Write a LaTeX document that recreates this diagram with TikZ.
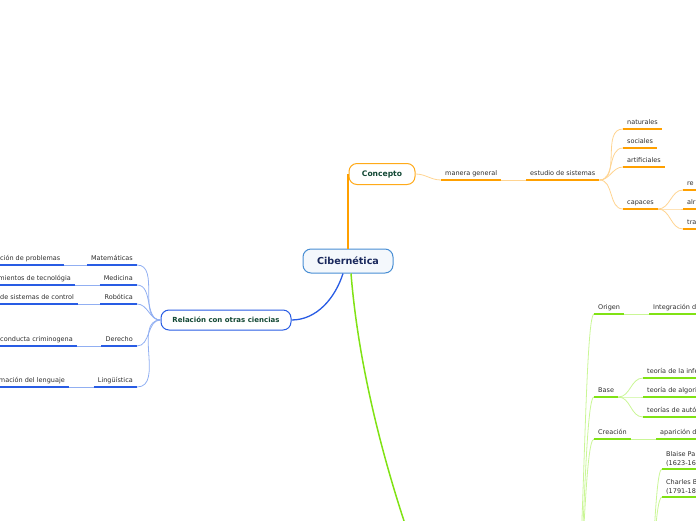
\documentclass[tikz,border=0pt]{standalone}
\usepackage{fontspec}
\setmainfont{DejaVu Sans}
\usepackage{xcolor}
\definecolor{mmorange}{RGB}{255,160,0}
\definecolor{mmorangelt}{RGB}{255,212,145}
\definecolor{mmblue}{RGB}{40,92,228}
\definecolor{mmbluelt}{RGB}{145,175,242}
\definecolor{mmgreen}{RGB}{128,226,20}
\definecolor{mmgreenlt}{RGB}{202,246,150}
\definecolor{mmsky}{RGB}{72,142,212}
\definecolor{mmnavy}{RGB}{25,40,92}
\definecolor{mmteal}{RGB}{18,72,52}
\definecolor{mmtext}{RGB}{45,45,45}
\usetikzlibrary{positioning, calc}

\begin{document}
\begin{tikzpicture}[x=1pt, y=-1pt,
  topic/.style={draw, fill=white, rounded corners=8pt, line width=1pt, inner sep=0pt, text=mmteal},
  lbl/.style={font=\fontsize{6.5}{9}\selectfont, text=mmtext, inner xsep=4pt, inner ysep=2.4pt},
  leaf/.style={lbl, text height=5pt, text depth=1.5pt},
  oline/.style={mmorange, line width=1.6pt},
  bline/.style={mmblue, line width=1.6pt},
  gline/.style={mmgreen, line width=1.6pt},
  olink/.style={mmorangelt, line width=0.8pt},
  blink/.style={mmbluelt, line width=0.8pt},
  glink/.style={mmgreenlt, line width=0.8pt}]

\useasboundingbox (0,0) rectangle (696,520);
\clip (0,0) rectangle (696,520);

\coordinate (rim) at (700,0);
\coordinate (lrim) at (-4,0);
\coordinate (gmain) at (407,530);
\coordinate (gsub) at (574,610);
\coordinate (prec) at (646,600);

% --- Central topic ---
\node[topic, draw=mmsky, fill=mmsky!6, text=mmnavy, font=\fontsize{9.6}{11}\selectfont\bfseries,
      minimum width=90pt, minimum height=24pt] (cib) at (348,261) {Cibernética};

% --- Concepto ---
\node[topic, draw=mmorange!90, font=\fontsize{7.6}{9}\selectfont\bfseries,
      minimum width=66pt, minimum height=21pt] (con) at (382,174) {Concepto};

\node[leaf, anchor=south west] (mg) at (441,180) {manera general};
\node[leaf, anchor=south west] (es) at (526,180) {estudio de sistemas};
\node[leaf, anchor=south west] (nat) at (623,129) {naturales};
\node[leaf, anchor=south west] (soc) at (623,148) {sociales};
\node[leaf, anchor=south west] (art) at (623,167) {artificiales};
\node[leaf, anchor=south west] (cap) at (623,209) {capaces};
\node[leaf, anchor=south west] (re) at (683,190) {re};
\node[leaf, anchor=south west] (alr) at (683,209) {alr};
\node[leaf, anchor=south west] (tra) at (683,229) {tra};

\draw[mmorange, line width=1.5pt] (cib.north) -- (cib.north |- con.west);
\draw[olink] (con.east) to[out=0, in=180] (mg.south west);
\draw[olink] (mg.south east) -- (es.south west);
\foreach \n in {nat,soc,art,cap}
  \draw[olink] (es.south east) to[out=0, in=180] (\n.south west);
\foreach \n in {re,alr,tra}
  \draw[olink] (cap.south east) to[out=0, in=180] (\n.south west);
\foreach \n in {mg,es,nat,soc,art,cap}
  \draw[oline] (\n.south west) -- (\n.south east);
\foreach \n in {re,alr,tra}
  \draw[oline] (\n.south west) -- (\n.south west -| rim);

% --- Relación con otras ciencias ---
\node[topic, draw=mmblue, font=\fontsize{7}{9}\selectfont\bfseries,
      minimum width=130pt, minimum height=20pt] (rel) at (226,320) {Relación con otras ciencias};

\node[leaf, anchor=south east] (mat) at (137,265) {Matemáticas};
\node[leaf, anchor=south east] (med) at (137,285) {Medicina};
\node[leaf, anchor=south east] (rob) at (137,304) {Robótica};
\node[leaf, anchor=south east] (der) at (137,346) {Derecho};
\node[leaf, anchor=south east] (lin) at (137,387) {Lingüística};

\node[leaf, anchor=south west] (prb) at (-4,265) {ción de problemas};
\node[leaf, anchor=south east] (tec) at (75,285) {mientos de tecnológia};
\node[leaf, anchor=south west] (ctl) at (-4,304) {de sistemas de control};
\node[leaf, anchor=south east] (crm) at (77,346) {conducta criminogena};
\node[leaf, anchor=south east] (len) at (69,387) {mación del lenguaje};

\draw[mmblue, line width=1.3pt] ([xshift=-5pt]cib.south) .. controls +(-8,25) and +(25,0) .. (rel.east);
\foreach \n in {mat,med,rob,der,lin}
  \draw[blink] (rel.west) to[out=180, in=0] (\n.south east);
\draw[blink] (prb.south east) -- (mat.south west);
\draw[blink] (tec.south east) -- (med.south west);
\draw[blink] (ctl.south east) -- (rob.south west);
\draw[blink] (crm.south east) -- (der.south west);
\draw[blink] (len.south east) -- (lin.south west);
\foreach \n in {mat,med,rob,der,lin}
  \draw[bline] (\n.south west) -- (\n.south east);
\foreach \n in {prb,tec,ctl,crm,len}
  \draw[bline] (\n.south east -| lrim) -- (\n.south east);

% --- Green branch (continues below) ---
\draw[mmgreen, line width=1.5pt] ([xshift=3pt]cib.south) .. controls +(8,100) and +(-20,-60) .. (gmain);

\node[leaf, anchor=south west] (org) at (594,314) {Origen};
\node[leaf, anchor=south west] (int) at (649,314) {Integración d};
\node[leaf, anchor=south west] (bas) at (594,397) {Base};
\node[leaf, anchor=south west] (tinf) at (643,378) {teoría de la infe};
\node[leaf, anchor=south west] (talg) at (643,397) {teoría de algori};
\node[leaf, anchor=south west] (taut) at (643,417) {teorías de autó};
\node[leaf, anchor=south west] (cre) at (594,439) {Creación};
\node[leaf, anchor=south west] (apa) at (656,439) {aparición d};
\node[lbl, align=left, anchor=south west] (bla) at (662,469) {Blaise Pa\\(1623-16};
\node[lbl, align=left, anchor=south west] (cha) at (662,497) {Charles B\\(1791-18};

\foreach \n in {org,bas,cre}
  \draw[glink] (gsub) .. controls +(10,0) and +(-10,0) .. (\n.south west);
\foreach \n in {bla,cha}
  \draw[glink] (prec) .. controls +(8,0) and +(-8,0) .. (\n.south west);
\draw[glink] (org.south east) -- (int.south west);
\draw[glink] (cre.south east) -- (apa.south west);
\foreach \n in {tinf,talg,taut}
  \draw[glink] (bas.south east) to[out=0, in=180] (\n.south west);
\foreach \n in {org,bas,cre}
  \draw[gline] (\n.south west) -- (\n.south east);
\foreach \n in {int,tinf,talg,taut,apa,bla,cha}
  \draw[gline] (\n.south west) -- (\n.south west -| rim);

\end{tikzpicture}
\end{document}
